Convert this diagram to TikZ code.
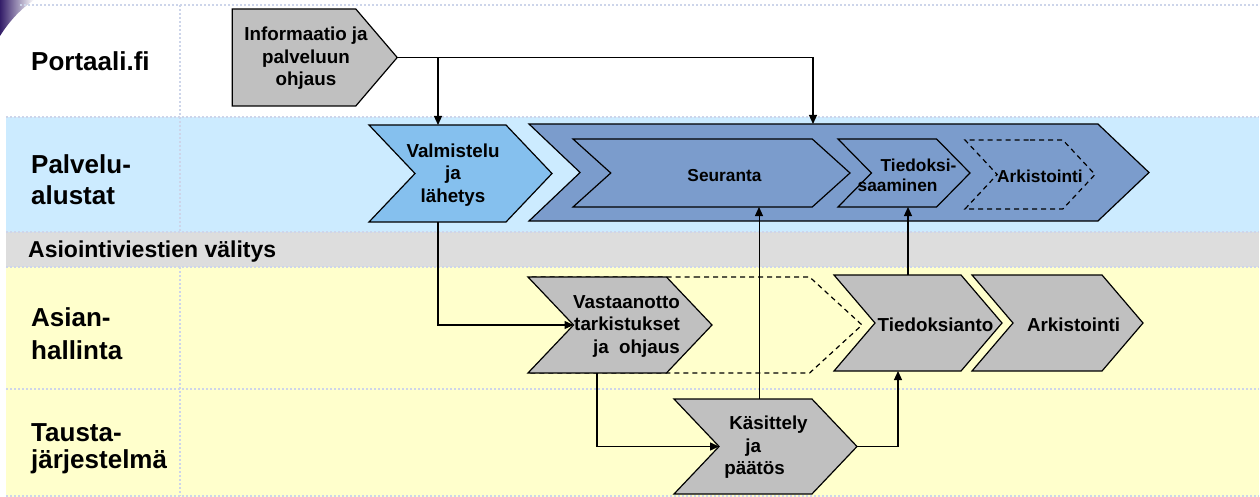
\documentclass[tikz,border=0pt]{standalone}
\usepackage{fontspec}
\setmainfont{Liberation Sans}
\usetikzlibrary{shapes.symbols,arrows.meta}

\definecolor{bandBlue}{RGB}{204,235,255}
\definecolor{bandGrey}{RGB}{221,221,221}
\definecolor{bandYellow}{RGB}{255,255,204}
\definecolor{gridBlue}{RGB}{205,213,234}
\definecolor{chevGrey}{RGB}{192,192,192}
\definecolor{valmBlue}{RGB}{133,192,238}
\definecolor{bigBlue}{RGB}{123,156,204}
\definecolor{logoBlue}{RGB}{52,30,105}

\tikzset{
	band/.style={rectangle, inner sep=0pt, outer sep=0pt},
	gridline/.style={draw=gridBlue, line width=1.5pt, dash pattern=on 2pt off 2pt},
	laneText/.style={anchor=west, align=left, inner sep=0pt, font=\bfseries\fontsize{26}{31}\selectfont},
	chevron/.style={signal, signal to=east, signal from=west, draw=black, line width=1.2pt, inner sep=0pt, outer sep=0pt},
	ghost/.style={dash pattern=on 5pt off 4pt},
	chevText/.style={font=\bfseries\fontsize{18.8}{22.5}\selectfont, align=center, inner sep=0pt},
	chevSmall/.style={font=\bfseries\fontsize{17.3}{19.5}\selectfont, align=center, inner sep=0pt},
	flow/.style={line width=1.2pt, -{Triangle[length=9pt,width=8pt]}}
}

\begin{document}
\begin{tikzpicture}[x=1pt, y=-1pt]
	\useasboundingbox[fill=white] (0,0) rectangle (1260,497);
	\shade[left color=logoBlue, right color=white] (0,0) -- (34,0) .. controls (22,8) and (10,20) .. (0,36) -- cycle;

	% lanes
	\node[band, fill=bandBlue, minimum width=1253pt, minimum height=115pt](palveluBox) at (632.5,174.5){};
	\node[band, fill=bandGrey, minimum width=1253pt, minimum height=35pt](valitysBox) at (632.5,249.5){};
	\node[band, fill=bandYellow, minimum width=1253pt, minimum height=230pt](asianBox) at (632.5,382){};

	\draw[gridline] (20,5) -- (1260,5);
	\draw[gridline] (6,117) -- (1259,117);
	\draw[gridline] (6,232) -- (1259,232);
	\draw[gridline] (6,267) -- (1259,267);
	\draw[gridline] (6,389) -- (1259,389);
	\draw[gridline] (6,496) -- (1259,496);
	\draw[gridline] (180,5) -- (180,232);
	\draw[gridline] (180,267) -- (180,496);

	\node[laneText](portaaliText) at (31,61){Portaali.fi};
	\node[laneText](palveluText) at (31,180){Palvelu-\\alustat};
	\node[laneText, font=\bfseries\fontsize{23}{26}\selectfont](valitysText) at (28,252){Asiointiviestien välitys};
	\node[laneText](asianText) at (31,334){Asian-\\[2pt]hallinta};
	\node[laneText](taustaText) at (31,449){Tausta-\\[-4pt]järjestelmä};

	% chevrons
	\node[chevron, signal from=nowhere, signal pointer angle=99, fill=chevGrey, minimum width=165pt, minimum height=97pt, label={[chevText, xshift=12pt, yshift=-1pt]center:Informaatio ja\\palveluun\\ohjaus}](info) at (294,57.5){};
	\node[chevron, signal pointer angle=93, fill=valmBlue, minimum width=183pt, minimum height=97pt, label={[chevText, xshift=-7.5pt, yshift=-1.5pt]center:Valmistelu\\ja\\lähetys}](valmistelu) at (460.5,173.5){};
	\node[chevron, signal pointer angle=87, fill=bigBlue, minimum width=620pt, minimum height=97pt](palvelu) at (839,172.5){};
	\node[chevron, signal pointer angle=84, fill=bigBlue, minimum width=277pt, minimum height=68pt, label={[chevSmall, xshift=13pt, yshift=-3pt]center:Seuranta}](seuranta) at (711.5,173){};
	\node[chevron, signal pointer angle=91, fill=bigBlue, minimum width=132pt, minimum height=68pt, label={[chevSmall, align=left, xshift=3pt, yshift=-2.5pt]center:\hspace*{23pt}Tiedoksi-\\saaminen}](saaminen) at (904,173){};
	\node[chevron, ghost, signal pointer angle=94, minimum width=130pt, minimum height=69pt, label={[chevSmall, xshift=10pt, yshift=-2pt]center:Arkistointi}](arkistoPalvelu) at (1030,174.5){};

	\node[chevron, ghost, signal pointer angle=85, minimum width=334pt, minimum height=96pt](tiedoksiantoHaamu) at (695,325){};
	\node[chevron, signal pointer angle=93, fill=chevGrey, minimum width=184pt, minimum height=96pt, label={[chevText, align=right, xshift=6.5pt, yshift=-1pt]center:Vastaanotto\\tarkistukset\\ja\ \ ohjaus}](vastaanotto) at (620,325){};
	\node[chevron, signal pointer angle=93, fill=chevGrey, minimum width=183pt, minimum height=95pt, label={[chevText, align=left, xshift=0.5pt, yshift=-1pt]center:\hspace*{5pt}Käsittely\\\hspace*{21pt}ja\\päätös}](kasittely) at (765.5,446.5){};
	\node[chevron, signal pointer angle=99, fill=chevGrey, minimum width=168pt, minimum height=96pt, label={[chevText, xshift=17.5pt, yshift=-2pt]center:Tiedoksianto}](tiedoksianto) at (918,323){};
	\node[chevron, signal pointer angle=99, fill=chevGrey, minimum width=171pt, minimum height=96pt, label={[chevText, xshift=16pt, yshift=-2pt]center:Arkistointi}](arkistointi) at (1057.5,323){};

	% flows
	\draw[flow] (info.east) -| ([xshift=-26pt]palvelu.north);
	\draw[flow] ([xshift=-22.5pt]valmistelu.north |- info.east) -- ([xshift=-22.5pt]valmistelu.north);
	\draw[flow] ([xshift=-22.5pt]valmistelu.south) |- (vastaanotto.west);
	\draw[flow] ([xshift=-23pt]vastaanotto.south) |- (kasittely.west);
	\draw[flow, line width=0.9pt] ([xshift=-6.5pt]kasittely.north) -- ([xshift=-6.5pt]kasittely.north |- seuranta.south);
	\draw[flow] (kasittely.east) -| ([xshift=-20pt]tiedoksianto.south);
	\draw[flow] ([xshift=-10pt]tiedoksianto.north) -- ([xshift=-10pt]tiedoksianto.north |- saaminen.south);
\end{tikzpicture}
\end{document}
